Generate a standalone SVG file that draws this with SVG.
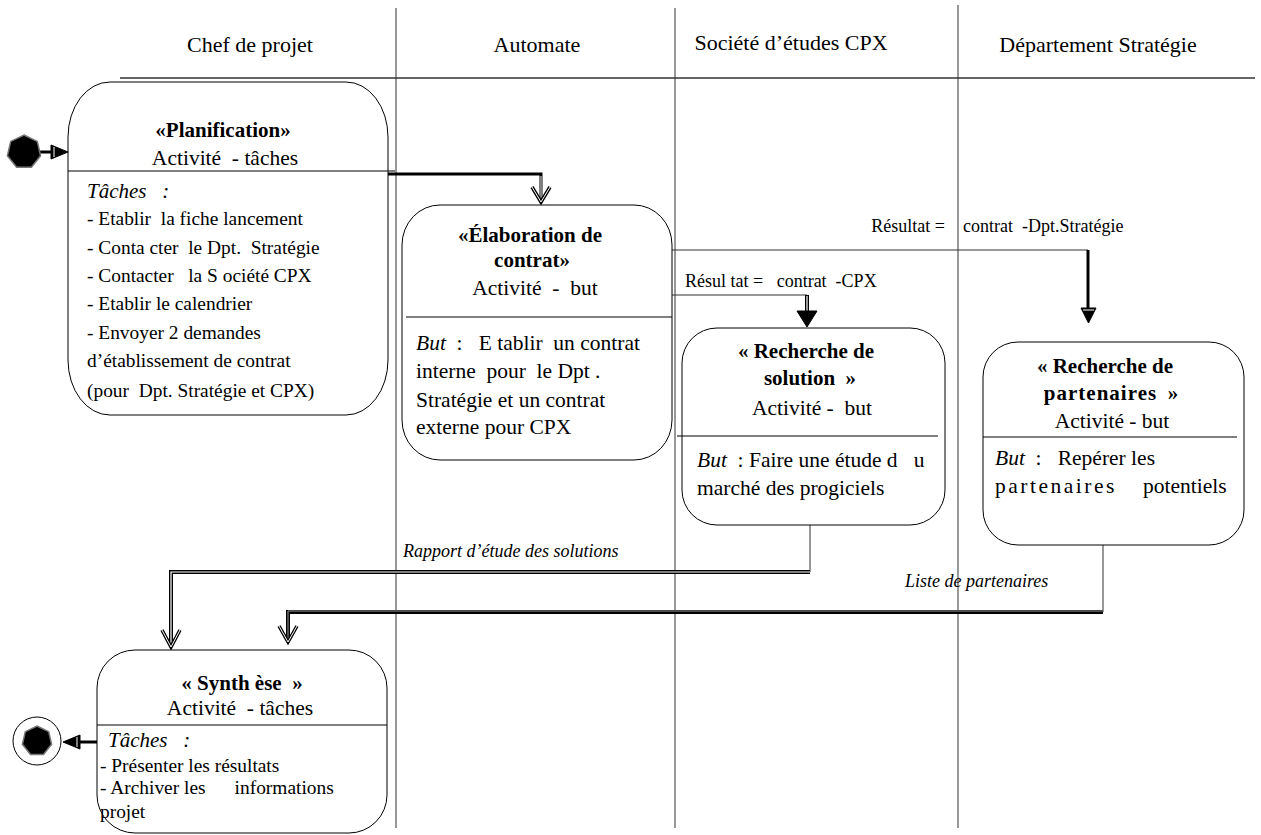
<svg xmlns="http://www.w3.org/2000/svg" width="1261" height="835" viewBox="0 0 1261 835" xml:space="preserve">
<style>
text{font-family:"Liberation Serif","Times New Roman",serif;fill:#000;white-space:pre}
.hd{font-size:22px;text-anchor:middle}
.ti{font-size:21px;font-weight:bold;text-anchor:middle}
.ac{font-size:21.5px;text-anchor:middle}
.bd{font-size:21.5px}
.tk{font-size:19.4px}
.it{font-style:italic}
.lb{font-size:18px}
.box{fill:#fff;stroke:#000;stroke-width:1}
.sep{stroke:#000;stroke-width:1}
.lane{stroke:#333;stroke-width:1;fill:none}
.thin{stroke:#333;stroke-width:1;fill:none}
.thick{stroke:#000;stroke-width:3;fill:none}
.dbl{stroke:#000;stroke-width:4;fill:none}
.dbli{stroke:#fff;stroke-width:1.2;fill:none}
.vo{stroke:#000;stroke-width:3.5;fill:none;stroke-linejoin:miter}
.voi{stroke:#fff;stroke-width:1;fill:none}
.tri{fill:#000;stroke:#000;stroke-width:1}
</style>

<g id="swimlanes">
  <line x1="120" y1="78" x2="1255" y2="78" stroke="#333" stroke-width="1.5"/>
  <line class="lane" x1="396" y1="8" x2="396" y2="828"/>
  <line class="lane" x1="675" y1="8" x2="675" y2="828"/>
  <line class="lane" x1="958" y1="5" x2="958" y2="828"/>
  <text class="hd" x="250" y="52">Chef de projet</text>
  <text class="hd" x="537" y="52">Automate</text>
  <text class="hd" x="791" y="50">Société d’études CPX</text>
  <text class="hd" x="1098" y="52">Département Stratégie</text>
</g>

<g id="connectors">
  <!-- initial -> Planification -->
  <line x1="40" y1="152" x2="53" y2="152" stroke="#000" stroke-width="3"/>
  <polygon class="tri" points="51,145 68,152 51,159"/>
  <line x1="54" y1="147" x2="54" y2="157" stroke="#fff" stroke-width="1"/>
  <!-- Planification -> Elaboration -->
  <path class="thick" d="M388,174 H541 V198"/>
  <path class="voi" d="M541,176 V198"/>
  <path class="vo" d="M532,187 L541,202 L550,187"/>
  <path class="voi" d="M532,187 L541,202 L550,187"/>
  <!-- Elaboration -> Partenaires -->
  <path class="thin" d="M672,250 H1088"/>
  <path class="thick" d="M1088,250 V312"/>
  <polygon class="tri" points="1081,308 1096,308 1088.5,323"/>
  <line x1="1083" y1="310" x2="1094" y2="310" stroke="#fff" stroke-width="1"/>
  <!-- Elaboration -> Solution -->
  <path class="thin" d="M668,295 H807"/>
  <path class="dbl" d="M807,295 V313"/>
  <path class="dbli" d="M807,296 V313"/>
  <polygon class="tri" points="797,311 817,311 807,327"/>
  <!-- Solution -> Synthese -->
  <path class="thin" d="M810,487 V572"/>
  <path class="dbl" d="M810,572 H171 V643"/>
  <path class="dbli" d="M810,572 H171 V643"/>
  <path class="vo" d="M162,630 L171,647 L180,630"/>
  <path class="voi" d="M162,630 L171,647 L180,630"/>
  <!-- Partenaires -> Synthese -->
  <path class="thin" d="M1103,545 V612"/>
  <path class="dbl" d="M1103,612 H288 V638"/>
  <path d="M1103,611 H288 V638" stroke="#999" stroke-width="1" fill="none"/>
  <path class="vo" d="M279,626 L288,642 L297,626"/>
  <path class="voi" d="M279,626 L288,642 L297,626"/>
  <!-- Synthese -> final -->
  <line x1="97" y1="742" x2="78" y2="742" stroke="#000" stroke-width="3"/>
  <polygon class="tri" points="80,735 63,742 80,749"/>
  <line x1="77" y1="737" x2="77" y2="747" stroke="#fff" stroke-width="1"/>
  <!-- labels -->
  <text class="lb" x="945" y="232" text-anchor="end">Résultat =</text>
  <text class="lb" x="963" y="232" font-size="18.7">contrat  -Dpt.Stratégie</text>
  <text class="lb" x="685" y="287" font-size="18.5">Résul tat =   contrat  -CPX</text>
  <text class="lb it" x="403" y="557">Rapport d’étude des solutions</text>
  <text class="lb it" x="905" y="587">Liste de partenaires</text>
</g>

<g id="initial">
  <polygon points="24,135 37.3,141.4 40.6,155.8 31.4,167.3 16.6,167.3 7.4,155.8 10.7,141.4" fill="#000" stroke="#777" stroke-width="1.5"/>
</g>

<g id="final">
  <circle cx="37" cy="741" r="24" fill="#fff" stroke="#000" stroke-width="1"/>
  <polygon points="37,726 48.7,731.7 51.6,744.3 43.5,754.5 30.5,754.5 22.4,744.3 25.3,731.7" fill="#000" stroke="#777" stroke-width="1.5"/>
</g>

<g id="planification">
  <rect class="box" x="68" y="82" width="320" height="333" rx="42" ry="55"/>
  <line class="sep" x1="68" y1="171" x2="395" y2="171"/>
  <text class="ti" x="223" y="137">«Planification»</text>
  <text class="ac" x="225" y="165">Activité  - tâches</text>
  <text class="it" x="87" y="198" font-size="21">Tâches   :</text>
  <text class="tk" x="87" y="225">- Etablir  la fiche lancement</text>
  <text class="tk" x="87" y="254">- Conta cter  le Dpt.  Stratégie</text>
  <text class="tk" x="87" y="282">- Contacter   la S ociété CPX</text>
  <text class="tk" x="87" y="310">- Etablir le calendrier</text>
  <text class="tk" x="87" y="339">- Envoyer 2 demandes</text>
  <text class="tk" x="87" y="367">d’établissement de contrat</text>
  <text class="tk" x="87" y="397">(pour  Dpt. Stratégie et CPX)</text>
</g>

<g id="elaboration">
  <rect class="box" x="402" y="205" width="270" height="255" rx="38" ry="40"/>
  <line class="sep" x1="406" y1="317" x2="672" y2="317"/>
  <text class="ti" x="530" y="242">«Élaboration de</text>
  <text class="ti" x="532" y="267">contrat»</text>
  <text class="ac" x="535" y="295">Activité  -  but</text>
  <text class="bd" x="416" y="350"><tspan class="it">But</tspan>  :   E tablir  un contrat</text>
  <text class="bd" x="416" y="378">interne  pour  le Dpt .</text>
  <text class="bd" x="416" y="407">Stratégie et un contrat</text>
  <text class="bd" x="416" y="434">externe pour CPX</text>
</g>

<g id="recherche-solution">
  <rect class="box" x="682" y="328" width="263" height="197" rx="35" ry="35"/>
  <line class="sep" x1="677" y1="436" x2="938" y2="436"/>
  <text class="ti" x="806" y="358">« Recherche de</text>
  <text class="ti" x="810" y="385">solution  »</text>
  <text class="ac" x="812" y="415">Activité -  but</text>
  <text class="bd" x="697" y="467"><tspan class="it">But</tspan>  : Faire une étude d   u</text>
  <text class="bd" x="697" y="495">marché des progiciels</text>
</g>

<g id="recherche-partenaires">
  <rect class="box" x="983" y="342" width="261" height="203" rx="35" ry="35"/>
  <line class="sep" x1="983" y1="437" x2="1237" y2="437"/>
  <text class="ti" x="1105" y="373">« Recherche de</text>
  <text class="ti" x="1111" y="400"><tspan letter-spacing="1">partenaires</tspan>  »</text>
  <text class="ac" x="1112" y="428">Activité - but</text>
  <text class="bd" x="995" y="465"><tspan class="it">But</tspan>  :   Repérer les</text>
  <text class="bd" x="995" y="493"><tspan letter-spacing="2.5">partenaires</tspan><tspan x="1143">potentiels</tspan></text>
</g>

<g id="synthese">
  <rect class="box" x="97" y="650" width="290" height="183" rx="38" ry="38"/>
  <line class="sep" x1="97" y1="725" x2="387" y2="725"/>
  <text class="ti" x="242" y="690">« Synth èse  »</text>
  <text class="ac" x="240" y="715">Activité  - tâches</text>
  <text class="it" x="108" y="747" font-size="21">Tâches   :</text>
  <text class="tk" x="100" y="772">- Présenter les résultats</text>
  <text class="tk" x="100" y="794">- Archiver les      informations</text>
  <text class="tk" x="100" y="818">projet</text>
</g>
</svg>
